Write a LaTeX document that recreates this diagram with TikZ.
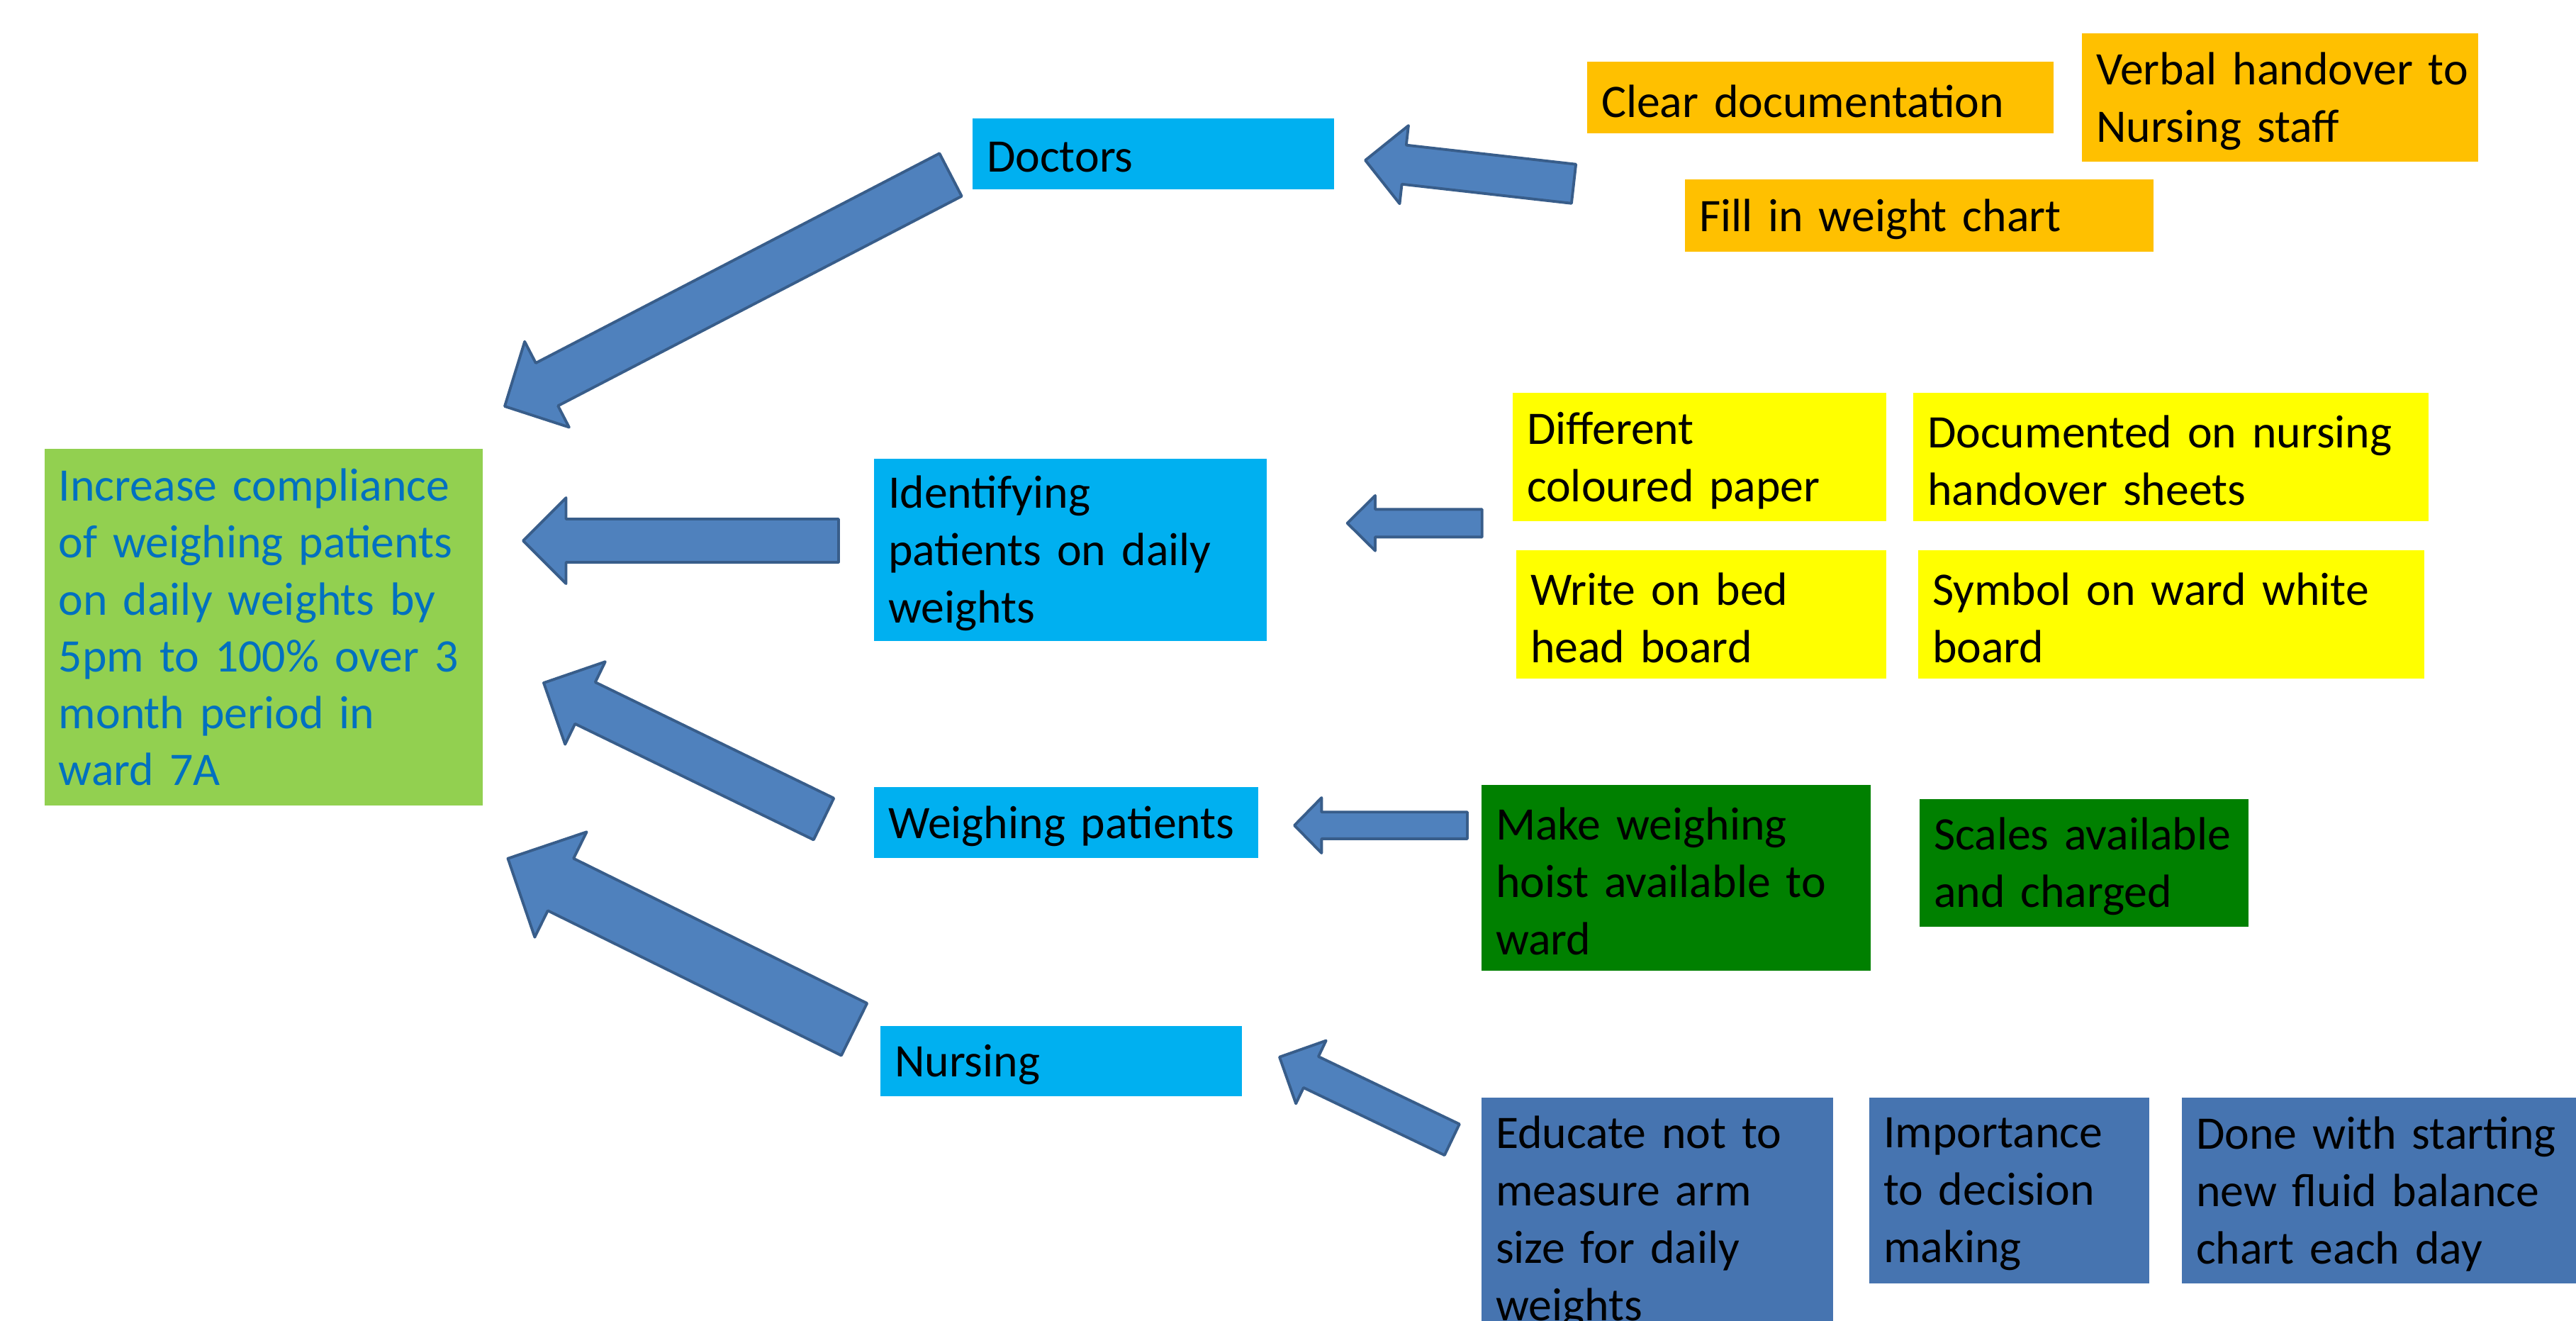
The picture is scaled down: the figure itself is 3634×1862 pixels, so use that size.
\documentclass[tikz,border=0pt]{standalone}
\usepackage{fontspec}
\setmainfont{Carlito}
\usetikzlibrary{calc}
\definecolor{lblue}{HTML}{00B0F0}
\definecolor{orangebox}{HTML}{FFC000}
\definecolor{yellowbox}{HTML}{FFFF00}
\definecolor{greenbox}{HTML}{008000}
\definecolor{bluebox}{HTML}{4674B0}
\definecolor{goalfill}{HTML}{92D050}
\definecolor{goaltext}{HTML}{0070C0}
\definecolor{arrfill}{HTML}{4F81BD}
\definecolor{arrline}{HTML}{385D8A}
\tikzset{
  boxbg/.style={rectangle, inner sep=0pt},
  txt/.style={rectangle, align=left, inner sep=0pt,
    font=\fontsize{18.7pt}{23pt}\selectfont, text=black},
  arr/.style={fill=arrfill, draw=arrline, line width=1.1pt, line join=round}
}
% name, fill colour, left, top, right, bottom, text  (pixel units)
\newcommand\tbox[7]{%
  \pgfmathsetlengthmacro\bw{(#5-#3)*0.01cm}%
  \pgfmathsetlengthmacro\bh{(#6-#4)*0.01cm}%
  \pgfmathsetlengthmacro\tw{(#5-#3-40)*0.01cm}%
  \pgfmathsetmacro\cx{(#3+#5)/2}%
  \pgfmathsetmacro\cy{(#4+#6)/2}%
  \node[boxbg, fill=#2, minimum width=\bw, minimum height=\bh] (#1) at (\cx,\cy) {};
  \node[txt, text width=\tw] (#1-text) at ([yshift=-0.05cm]#1.center) {#7};}
\newcommand\blockarr[5]{%
  \path ($(#2)!#5!(#1)$) coordinate (hb);
  \draw[arr] ($(#1)!#3!90:(#2)$) -- ($(hb)!#3!-90:(#1)$) -- ($(hb)!#4!-90:(#1)$)
    -- (#2) -- ($(hb)!#4!90:(#1)$) -- ($(hb)!#3!90:(#1)$) -- ($(#1)!#3!-90:(#2)$) -- cycle;}
\begin{document}
\begin{tikzpicture}[x=0.01cm, y=-0.01cm]
\useasboundingbox (0,0) rectangle (3634,1862);
\clip (0,0) rectangle (3634,1862);
\fill[white] (0,0) rectangle (3634,1862);
% goal
\node[boxbg, fill=goalfill, minimum width=6.18cm, minimum height=5.03cm] (goal) at (372,884.5) {};
\node[txt, text=goaltext, text width=5.78cm, font=\fontsize{18.7pt}{22.8pt}\selectfont] (goal-text) at (goal.center)
  {Increase compliance\\of weighing patients\\on daily weights by\\5pm to 100\% over 3\\month period in\\ward 7A};
% categories
\tbox{doctors}{lblue}{1372}{167}{1882}{267}{Doctors}
\tbox{ident}{lblue}{1233}{647}{1787}{904}{Identifying\\patients on daily\\weights}
\tbox{weigh}{lblue}{1233}{1110}{1775}{1210}{Weighing patients}
\tbox{nursing}{lblue}{1242}{1447}{1752}{1546}{Nursing}
% orange
\tbox{clear}{orangebox}{2239}{87}{2897}{188}{Clear documentation}
\tbox{verbal}{orangebox}{2937}{47}{3496}{228}{\mbox{Verbal handover to}\\Nursing staff}
\tbox{fill}{orangebox}{2377}{253}{3038}{355}{Fill in weight chart}
% yellow
\tbox{diff}{yellowbox}{2134}{554}{2661}{735}{Different\\coloured paper}
\tbox{docu}{yellowbox}{2699}{554}{3426}{735}{Documented on nursing\\handover sheets}
\tbox{write}{yellowbox}{2139}{776}{2661}{957}{Write on bed\\head board}
\tbox{symbol}{yellowbox}{2706}{776}{3420}{957}{Symbol on ward white\\board}
% green
\tbox{hoist}{greenbox}{2090}{1107}{2639}{1369}{Make weighing\\hoist available to\\ward}
\tbox{scales}{greenbox}{2708}{1127}{3172}{1307}{Scales available\\and charged}
% blue
\tbox{educate}{bluebox}{2090}{1548}{2586}{1890}{Educate not to\\measure arm\\size for daily\\weights}
\tbox{import}{bluebox}{2637}{1548}{3032}{1810}{Importance\\to decision\\making}
\tbox{done}{bluebox}{3078}{1548}{3660}{1810}{Done with starting\\new fluid balance\\chart each day}
% arrow anchors
\coordinate (a1t) at (1341,246.5);  \coordinate (a1h) at (712,573);
\coordinate (a2t) at (1183,762.5);  \coordinate (a2h) at (738,762.5);
\coordinate (a3t) at (1162,1155);   \coordinate (a3h) at (767,963);
\coordinate (a4t) at (1205,1451.7); \coordinate (a4h) at (716.5,1210.7);
\coordinate (a5t) at (2220,259.2);  \coordinate (a5h) at (1926,226);
\coordinate (a6t) at (2090.7,737.8);\coordinate (a6h) at (1900.7,737.8);
\coordinate (a7t) at (2070,1164);   \coordinate (a7h) at (1826,1164);
\coordinate (a8t) at (2048.3,1607.2);\coordinate (a8h) at (1805,1490.7);
\blockarr{a1t}{a1h}{0.34cm}{0.68cm}{0.67cm}
\blockarr{a2t}{a2h}{0.305cm}{0.605cm}{0.605cm}
\blockarr{a3t}{a3h}{0.326cm}{0.647cm}{0.65cm}
\blockarr{a4t}{a4h}{0.41cm}{0.827cm}{0.83cm}
\blockarr{a5t}{a5h}{0.277cm}{0.554cm}{0.55cm}
\blockarr{a6t}{a6h}{0.195cm}{0.389cm}{0.393cm}
\blockarr{a7t}{a7h}{0.188cm}{0.39cm}{0.383cm}
\blockarr{a8t}{a8h}{0.243cm}{0.492cm}{0.492cm}
\end{tikzpicture}
\end{document}
